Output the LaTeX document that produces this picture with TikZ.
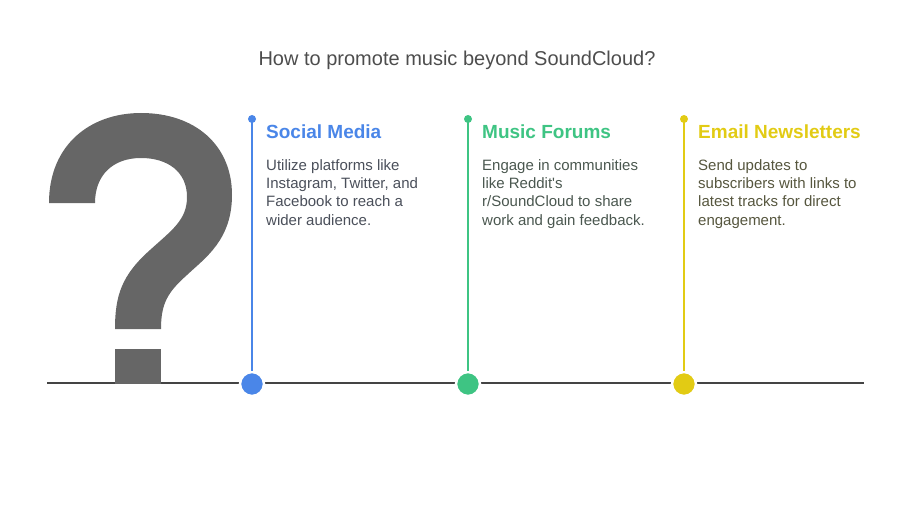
\documentclass[tikz,border=0pt]{standalone}
\usepackage{fontspec}
\setmainfont{Liberation Sans}
\definecolor{cblue}{HTML}{4A86E8}
\definecolor{cgreen}{HTML}{3EC483}
\definecolor{cyellow}{HTML}{E2CB14}
\definecolor{qgray}{HTML}{666666}
\definecolor{lgray}{HTML}{444444}
\definecolor{tgray}{HTML}{4D4D4D}
\definecolor{tblue}{HTML}{4A4F5A}
\definecolor{tgreen}{HTML}{4A574F}
\definecolor{tyellow}{HTML}{56563E}
\tikzset{
  bigdot/.style={circle, fill=#1, draw=white, line width=2.5pt, minimum size=24pt, inner sep=0pt},
  smalldot/.style={circle, fill=#1, minimum size=8pt, inner sep=0pt},
  stem/.style={draw=#1, line width=2pt},
  heading/.style={anchor=base west, inner sep=0pt, font=\fontsize{19}{22}\selectfont\bfseries, text=#1},
  body/.style={anchor=base west, inner sep=0pt, font=\fontsize{15}{18}\selectfont, text=#1},
}
\begin{document}
\begin{tikzpicture}[x=1pt, y=-1pt]
\useasboundingbox (0,0) rectangle (912,505);
% title
\node[anchor=base, inner sep=0pt, font=\fontsize{20}{23}\selectfont, text=tgray] (title) at (457,66) {How to promote music beyond SoundCloud?};
% question mark
\fill[qgray] (49,203) .. controls (49,145) and (90,113) .. (141,113)
  .. controls (195,113) and (232,145) .. (232,195)
  .. controls (232,240) and (205,258) .. (187,275)
  .. controls (168,292) and (161,303) .. (161,329)
  -- (115,329)
  .. controls (115,295) and (122,275) .. (150,250)
  .. controls (172,230) and (187,220) .. (187,197)
  .. controls (187,172) and (168,158) .. (141,158)
  .. controls (113,158) and (95,175) .. (95,203)
  -- cycle;
% base line
\coordinate (lstart) at (47,383);
\coordinate (lend) at (864,383);
\draw[lgray, line width=2pt] (lstart) -- (lend);
\fill[qgray] (115,349) rectangle (161,384);
% columns
\foreach \x/\c/\n in {252/cblue/a, 468/cgreen/b, 684/cyellow/c}{
  \node[smalldot=\c] (top\n) at (\x,119) {};
  \node[bigdot=\c] (bot\n) at (\x,384) {};
  \draw[stem=\c] (top\n.center) -- (bot\n.north);
}
% texts
\node[heading=cblue] (h1) at (266,139) {Social Media};
\node[body=tblue] (a1) at (266,171) {Utilize platforms like};
\node[body=tblue] (a2) at (266,189) {Instagram, Twitter, and};
\node[body=tblue] (a3) at (266,207) {Facebook to reach a};
\node[body=tblue] (a4) at (266,225) {wider audience.};
\node[heading=cgreen] (h2) at (482,139) {Music Forums};
\node[body=tgreen] (b1) at (482,171) {Engage in communities};
\node[body=tgreen] (b2) at (482,189) {like Reddit\textquotesingle s};
\node[body=tgreen] (b3) at (482,207) {r/SoundCloud to share};
\node[body=tgreen] (b4) at (482,225) {work and gain feedback.};
\node[heading=cyellow] (h3) at (698,139) {Email Newsletters};
\node[body=tyellow] (c1) at (698,171) {Send updates to};
\node[body=tyellow] (c2) at (698,189) {subscribers with links to};
\node[body=tyellow] (c3) at (698,207) {latest tracks for direct};
\node[body=tyellow] (c4) at (698,225) {engagement.};
\end{tikzpicture}
\end{document}
